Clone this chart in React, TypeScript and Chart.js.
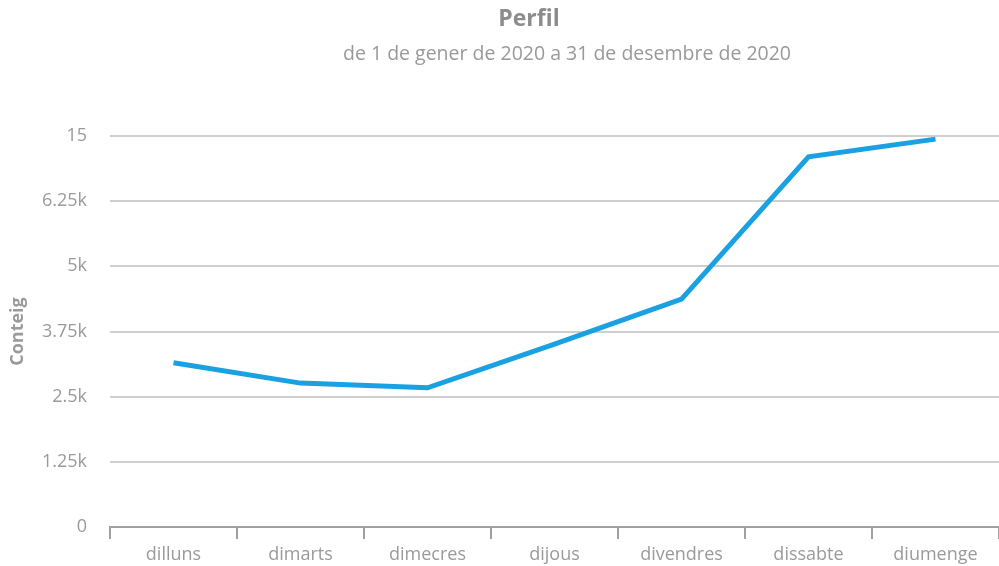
import React, { useEffect, useRef } from "react";
import { Chart, registerables } from "chart.js";

Chart.register(...registerables);

const titleText = "Perfil";
const subtitleText = "de 1 de gener de 2020 a 31 de desembre de 2020";
const axisTitle = "Conteig";
const days = ["dilluns", "dimarts", "dimecres", "dijous", "divendres", "dissabte", "diumenge"];
const counts = [3150, 2760, 2670, 3510, 4370, 7100, 7440];
const yTickLabels = ["0", "1.25k", "2.5k", "3.75k", "5k", "6.25k", "15"];

const FONT = "'Open Sans', sans-serif";

const headerPlugin = {
  id: "header",
  afterDraw(chart: any) {
    const ctx = chart.ctx;
    ctx.save();
    ctx.textAlign = "center";
    ctx.textBaseline = "middle";
    ctx.fillStyle = "#8c8c8c";
    ctx.font = `bold 23px ${FONT}`;
    ctx.fillText(titleText, 529, 19);
    ctx.font = `19.5px ${FONT}`;
    ctx.fillStyle = "#999999";
    ctx.fillText(subtitleText, 567, 54);
    ctx.restore();
  },
};

export default function App() {
  const ref = useRef<HTMLCanvasElement>(null);
  useEffect(() => {
    const chart = new Chart(ref.current!, {
      type: "line",
      data: {
        labels: days,
        datasets: [
          {
            data: counts,
            borderColor: "#19a1e1",
            borderWidth: 5,
            pointRadius: 0,
            tension: 0,
            fill: false,
          },
        ],
      },
      options: {
        animation: false,
        responsive: false,
        layout: { padding: { top: 136, right: 0, bottom: 0, left: 0 } },
        plugins: { legend: { display: false }, tooltip: { enabled: false } },
        scales: {
          x: {
            type: "category",
            offset: true,
            afterFit: (s: any) => {
              s.height = 39;
            },
            grid: {
              offset: true,
              drawOnChartArea: false,
              drawTicks: true,
              tickLength: 12,
              color: "#a0a0a0",
              lineWidth: 2,
            },
            border: { display: true, color: "#a0a0a0", width: 2 },
            ticks: {
              color: "#9a9a9a",
              font: { family: FONT, size: 18 },
              padding: 5,
              maxRotation: 0,
              autoSkip: false,
            },
          },
          y: {
            min: 0,
            max: 7500,
            afterFit: (s: any) => {
              s.width = 110;
            },
            grid: { color: "#cfcfcf", lineWidth: 2, drawTicks: false },
            border: { display: false },
            ticks: {
              stepSize: 1250,
              color: "#9a9a9a",
              font: { family: FONT, size: 18 },
              padding: 23,
              callback: (_v: any, i: number) => yTickLabels[i],
            },
            title: {
              display: true,
              text: axisTitle,
              color: "#9a9a9a",
              font: { family: FONT, size: 18, weight: "bold" },
              padding: { top: 7, bottom: 0 },
            },
          },
        },
      },
      plugins: [headerPlugin],
    });
    return () => chart.destroy();
  }, []);
  return (
    <div style={{ position: "fixed", left: 0, top: 0, width: 999, height: 566, background: "#fff" }}>
      <canvas ref={ref} width={999} height={566} style={{ width: 999, height: 566, display: "block" }} />
    </div>
  );
}
